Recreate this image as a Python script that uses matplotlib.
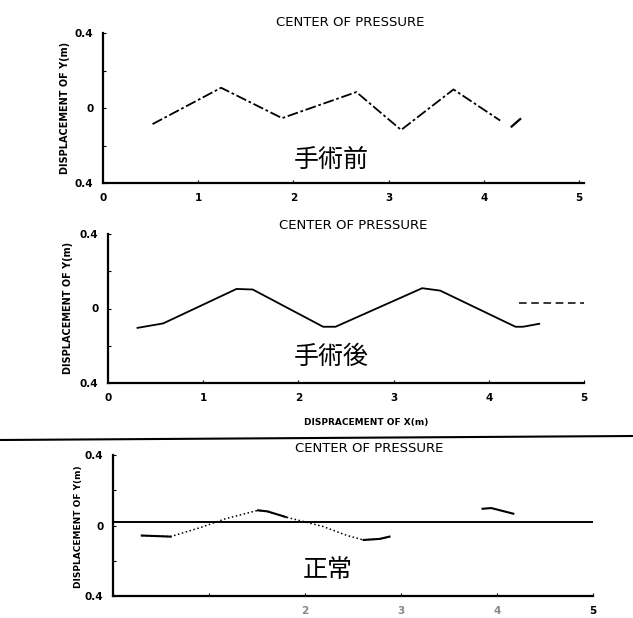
import matplotlib
matplotlib.use("Agg")
from matplotlib import pyplot as plt
from matplotlib.lines import Line2D

plt.rcParams['font.family'] = ['DejaVu Sans', 'Noto Sans CJK JP']

W, H = 633, 618

# centre of pressure path, before surgery
preX = [0.52, 1.24, 1.88, 2.66, 3.13, 3.68, 4.17]
preY = [-0.086, 0.108, -0.054, 0.085, -0.117, 0.099, -0.067]
preTailX = [4.29, 4.38]
preTailY = [-0.099, -0.059]

# after surgery
postX = [0.31, 0.58, 1.35, 1.52, 2.26, 2.39, 3.30, 3.49, 4.19, 4.28, 4.36, 4.53]
postY = [-0.104, -0.080, 0.105, 0.102, -0.098, -0.098, 0.109, 0.096, -0.076, -0.098, -0.098, -0.082]
postRefX = [4.32, 5.0]
postRefY = [0.027, 0.027]

# normal subject
normX = [0.30, 0.60, 0.92, 1.17, 1.51, 1.61, 1.80, 2.19, 2.44, 2.61, 2.78, 2.88]
normY = [-0.057, -0.063, -0.010, 0.038, 0.086, 0.080, 0.048, -0.006, -0.057, -0.082, -0.076, -0.063]
normTailX = [3.85, 3.94, 4.17]
normTailY = [0.095, 0.099, 0.067]
normBase = 0.02

xTicks = [0, 1, 2, 3, 4, 5]
yTicks = [-0.4, 0, 0.4]
yTickLabels = ['0.4', '0', '0.4']
titleText = 'CENTER OF PRESSURE'
yLabelText = 'DISPLACEMENT OF Y(m)'
xLabelText = 'DISPRACEMENT OF X(m)'


def px(x, y):
    return x / W, 1 - y / H


def setupAxes(ax, xmax, xLabels, faint=()):
    ax.set_xlim(0, xmax)
    ax.set_ylim(-0.4, 0.4)
    for s in ['top', 'right']:
        ax.spines[s].set_visible(False)
    for s in ['left', 'bottom']:
        ax.spines[s].set_linewidth(1.6)
        ax.spines[s].set_color('black')
    ax.set_xticks(xTicks)
    ax.set_xticklabels(xLabels, fontsize=7.5, fontweight='bold')
    for i in faint:
        ax.get_xticklabels()[i].set_color('#888888')
    ax.set_yticks(yTicks)
    ax.set_yticklabels(yTickLabels, fontsize=7.5, fontweight='bold')
    ax.set_yticks([-0.2, 0.2], minor=True)
    ax.tick_params(axis='both', which='both', direction='in', length=2, width=0.8, pad=7)


fig = plt.figure(figsize=(W / 100, H / 100), dpi=100)

# before surgery
ax1 = fig.add_axes([103 / W, 1 - 183 / H, 481 / W, 150 / H])
setupAxes(ax1, 5.05, [str(t) for t in xTicks])
ax1.plot(preX, preY, color='black', lw=1.3, ls=(0, (6, 1.5, 1.5, 1.5)))
ax1.plot(preTailX, preTailY, color='black', lw=1.6)
fig.text(*px(350, 22), titleText, ha='center', va='center', fontsize=9.5)
fig.text(*px(65, 108), yLabelText, ha='center', va='center', rotation=90,
         fontsize=7, fontweight='bold')
fig.text(*px(331, 160), '手術前', ha='center', va='center', fontsize=18,
         family=['Noto Sans CJK JP', 'DejaVu Sans'])

# after surgery
ax2 = fig.add_axes([108 / W, 1 - 383 / H, 476 / W, 149 / H])
setupAxes(ax2, 5.0, [str(t) for t in xTicks])
ax2.plot(postX, postY, color='black', lw=1.3)
ax2.plot(postRefX, postRefY, color='black', lw=1.1, ls=(0, (5, 3)))
fig.text(*px(353, 225), titleText, ha='center', va='center', fontsize=9.5)
fig.text(*px(68, 308), yLabelText, ha='center', va='center', rotation=90,
         fontsize=7, fontweight='bold')
fig.text(*px(331, 357), '手術後', ha='center', va='center', fontsize=18,
         family=['Noto Sans CJK JP', 'DejaVu Sans'])
fig.text(*px(366, 423), xLabelText, ha='center', va='center', fontsize=6.5,
         fontweight='bold')

# separator rule across the page
fig.add_artist(Line2D([0, 1], [1 - 440 / H, 1 - 436 / H], color='black', lw=1.5,
                      transform=fig.transFigure))

# normal subject
ax3 = fig.add_axes([113 / W, 1 - 596 / H, 480 / W, 141 / H])
setupAxes(ax3, 5.0, ['', '', '2', '3', '4', '5'], faint=(2, 3, 4))
ax3.axhline(normBase, xmin=0, xmax=1, color='black', lw=1.4)
ax3.plot(normX, normY, color='black', lw=1.1, ls=':')
ax3.plot(normX[:2], normY[:2], color='black', lw=1.5)
ax3.plot(normX[4:7], normY[4:7], color='black', lw=1.5)
ax3.plot(normX[9:], normY[9:], color='black', lw=1.5)
ax3.plot(normTailX, normTailY, color='black', lw=1.5)
fig.text(*px(369, 449), titleText, ha='center', va='center', fontsize=9.5)
fig.text(*px(78, 527), yLabelText, ha='center', va='center', rotation=90,
         fontsize=6.5, fontweight='bold')
fig.text(*px(328, 570), '正常', ha='center', va='center', fontsize=18,
         family=['Noto Sans CJK JP', 'DejaVu Sans'])

fig.savefig('out.png', dpi=100)
